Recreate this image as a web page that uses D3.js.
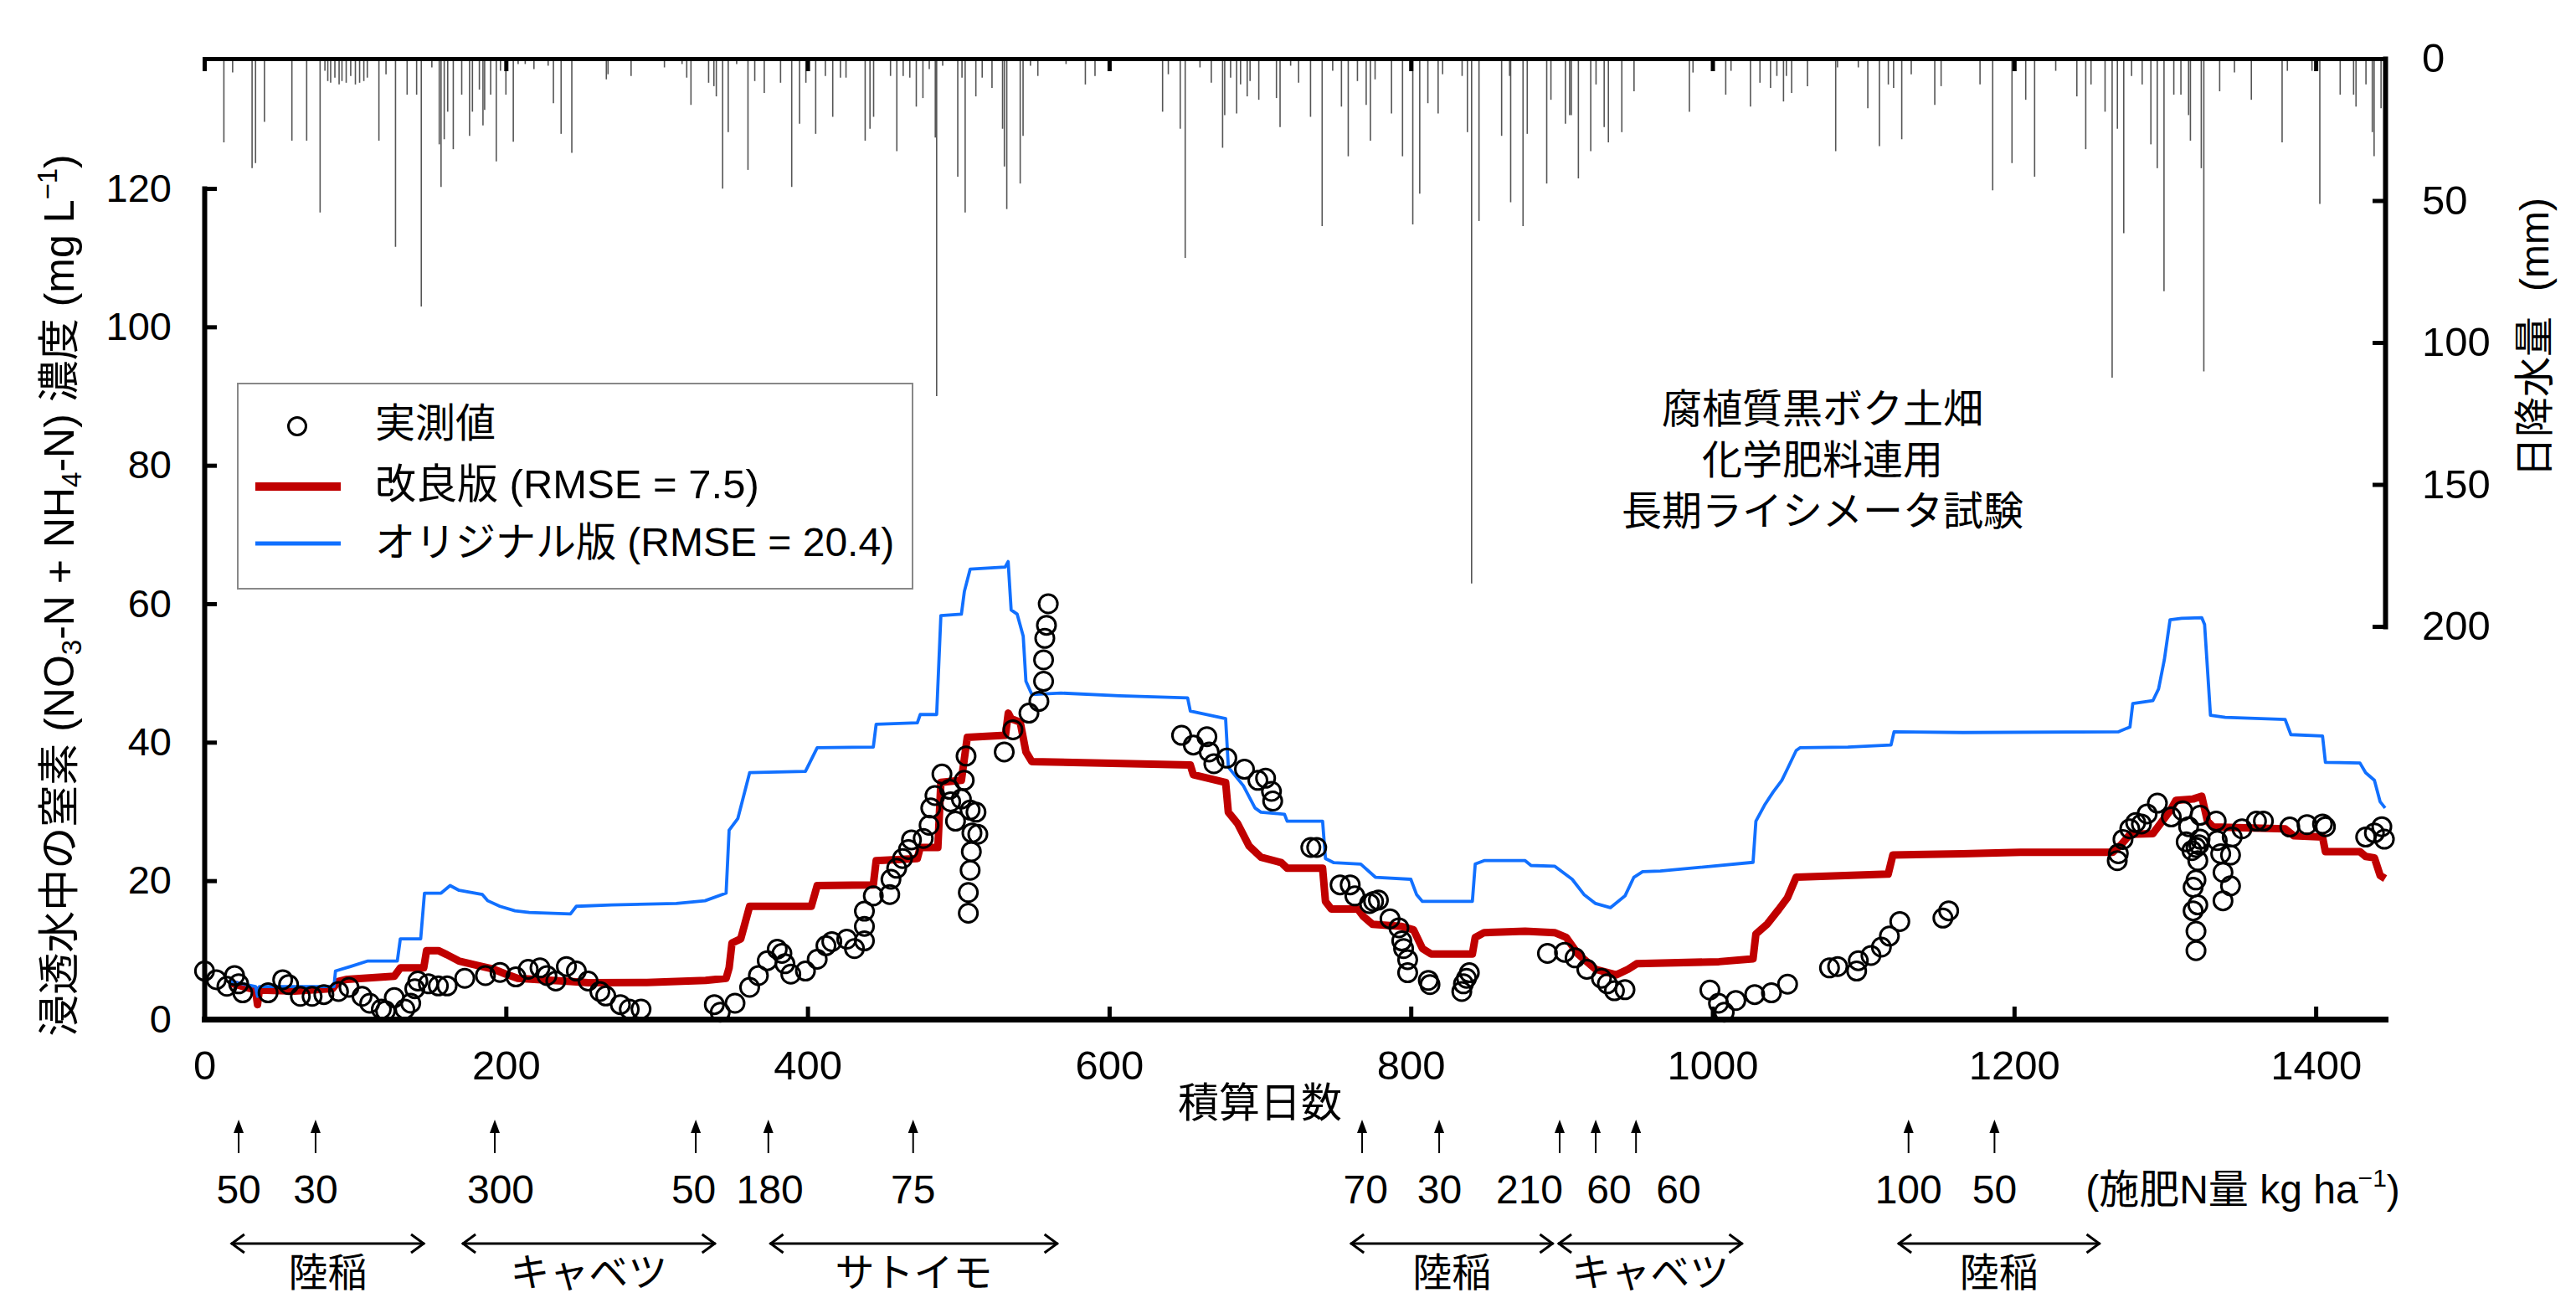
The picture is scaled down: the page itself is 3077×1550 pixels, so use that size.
<!DOCTYPE html>
<html><head><meta charset="utf-8">
<script src="https://cdn.jsdelivr.net/npm/d3@7"></script>
<style>
body{margin:0;background:#fff}
svg text{font-family:"Liberation Sans",Arial,"Noto Sans CJK JP",sans-serif;fill:#000}
</style>
</head><body>
<svg id="chart" width="3077" height="1550"></svg>
<script>
// ---------- data ----------
const xTicks = [0,200,400,600,800,1000,1200,1400];
const yTicks = [0,20,40,60,80,100,120];
const rainTicks = [0,50,100,150,200];

const observed = [
[0.2,6.95],[8.0,5.7],[15.0,4.75],[20.1,6.3],[22.8,5.1],[25.5,3.8],[42.3,3.8],[52.0,5.7],[55.9,5.0],[63.7,3.3],[71.5,3.3],[79.3,3.55],[89.0,4.0],[96.0,4.6],[104.6,3.3],[109.7,2.3],[117.4,1.45],[120.2,1.2],[126.0,3.1],[133.0,1.45],[136.9,2.3],[139.6,4.4],[141.6,5.5],[148.6,5.1],[155.2,4.8],[161.0,4.8],[172.7,5.9],[186.4,6.3],[196.1,6.75],[206.6,6.1],[214.8,7.2],[222.6,7.4],[227.2,6.3],[233.1,5.5],[240.1,7.6],[246.7,6.95],[254.5,5.5],[262.3,4.0],[266.2,3.35],[275.9,2.1],[281.8,1.45],[289.6,1.45],[338.2,2.1],[342.1,1.0],[351.9,2.3],[361.6,4.6],[367.4,6.3],[373.3,8.45],[379.9,10.1],[383.0,9.5],[385.0,8.0],[388.9,6.5],[398.6,6.95],[406.4,8.65],[412.2,10.6],[416.1,11.2],
[426.0,11.55],[431.1,10.2],[437.7,11.3],[437.7,13.4],[437.7,15.6],[443.6,17.8],[454.5,18.0],[455.3,20.2],[459.1,21.8],[463.0,23.2],[466.9,24.5],[468.9,25.9],[476.7,26.1],[480.6,28.0],[481.7,30.5],[484.5,32.3],[489.1,35.4],[494.2,33.2],[494.9,31.4],[498.1,28.6],[502.0,31.8],[503.9,34.5],[505.1,38.0],[506.6,15.3],[506.6,18.3],[507.8,21.5],[508.6,24.2],[509.0,26.9],[507.8,30.2],[511.7,29.9],[512.9,26.7],[530.4,38.6],[536.2,41.8],[546.8,44.2],[553.4,45.9],[556.5,48.8],[556.5,51.9],[557.3,55.0],[558.4,56.9],[559.6,60.0],
[648.0,41.0],[655.8,39.6],[664.8,40.8],[666.3,38.6],[669.4,36.9],[678.0,37.7],[689.7,36.1],[698.6,34.5],[703.7,34.8],[707.6,32.9],[708.4,31.5],[733.7,24.8],[737.6,24.8],[753.1,19.4],[759.8,19.4],[762.9,17.8],[772.6,16.7],[775.3,17.0],[778.5,17.2],[786.2,14.5],[792.1,13.2],[794.0,11.3],[795.2,10.2],[797.9,8.6],[797.9,6.7],[811.6,5.6],[812.7,5.0],[833.8,4.0],[834.9,5.1],[836.9,5.9],[838.8,6.7],[890.6,9.5],[901.9,9.66],[908.9,8.85],[916.7,7.2],[926.4,5.9],[930.3,5.1],[935.0,4.1],[942.0,4.25],
[998.3,4.2],[1004.0,2.3],[1007.8,1.0],[1015.5,2.7],[1028.0,3.55],[1039.1,3.8],[1049.8,5.05],[1077.6,7.4],[1083.0,7.6],[1095.6,6.95],[1096.7,8.45],[1105.1,9.2],[1112.0,10.4],[1117.3,12.0],[1124.2,14.1],[1152.8,14.6],[1156.6,15.65],[1268.4,22.9],[1269.1,23.9],[1272.2,25.96],[1276.7,27.5],[1280.6,28.4],[1284.4,28.2],[1288.2,29.65],[1295.0,31.2],[1304.2,29.2],[1311.8,30.1],[1314.1,25.6],[1315.7,27.8],[1317.9,24.35],[1320.6,24.8],[1321.8,22.9],[1322.5,25.2],[1323.3,26.0],[1323.3,29.45],[1320.6,20.1],[1318.7,19.05],[1318.7,15.65],[1321.8,16.5],[1320.6,12.7],[1320.6,9.9],[1334.0,28.6],[1334.7,25.8],[1337.0,23.9],[1338.5,21.2],[1343.5,23.7],[1343.5,19.25],[1338.5,17.1],[1344.6,26.3],[1351.1,27.5],[1360.7,28.6],[1365.3,28.6],[1382.8,27.75],[1394.2,28.1],[1404.5,28.2],[1406.4,27.8],[1433.1,26.3],[1438.9,26.9],[1443.8,27.8],[1445.5,26.0]
];

const improved = [
[17,5.25],[34,4.2],[35.3,2.1],[36.5,4.2],[59.8,4.06],[85,4.4],[89,5.45],[94.8,5.75],[126,6.2],[130,7.4],[145.5,7.4],[147.4,9.9],[155.2,9.9],[161,9.3],[168.8,8.4],[180.5,7.8],[192,7.2],[200,6.5],[207.8,5.9],[223.4,5.68],[242.8,5.45],[254.5,5.25],[293.5,5.3],[332.4,5.6],[346,5.9],[348,7.4],[349.9,11],[355.7,11.6],[361.6,16.3],[402.5,16.3],[406.4,19.3],
[443.6,19.4],[445.5,22.9],[472.8,23.2],[474.7,24.8],[486.4,24.8],[488.4,34.2],[502,34.5],[505.9,40.7],[531.2,41],[533.1,44.2],[535,43.4],[541,42.9],[544.8,38.6],[548.7,37.2],[653.8,36.7],[655.8,35.3],[677.2,34.2],[679,29.9],[685,28.3],[692.8,25],[700.6,23.4],[714.2,22.6],[718,21.8],[741.5,21.8],[743.4,17],[747.3,15.9],[764.8,15.9],[768.7,14.8],[774.6,13.7],[794,13.4],[801.8,12.9],[807.7,10.2],[813.5,9.4],[840.8,9.4],[842.7,11.8],[848.6,12.5],[875.8,12.7],[895.3,12.5],[903,11.8],[910.9,9.4],[922.5,7.2],[936.2,6.4],[944,7.2],[949.8,8],[1004.3,8.3],
[1026.9,8.7],[1028.8,12.3],[1036.4,13.75],[1044,15.86],[1049.8,17.56],[1055.5,20.5],[1116.5,20.95],[1119.6,23.7],[1166,23.9],[1204.3,24.1],[1265.3,24.1],[1271,25.2],[1276.8,26.7],[1292,26.8],[1303.4,30.1],[1307.3,31.6],[1318.7,31.8],[1324.4,32.2],[1328.2,28.6],[1332,27.75],[1379.7,27.5],[1385.4,26.5],[1404.5,26.3],[1406.4,24.2],[1429.3,24.2],[1433.1,23.5],[1438.9,23.3],[1442.7,20.75],[1446,20.3]
];

const original = [
[17,5.5],[34,4.7],[35.3,3.3],[36.5,4.7],[86,4.7],[87,6.95],[97,7.6],[108.5,8.4],[128,8.4],[130,11.6],[143.5,11.6],[146,18.2],[157,18.2],[163,19.3],[169,18.6],[184.4,18],[188,17.1],[196,16.3],[206,15.65],[215.6,15.4],[242.8,15.2],[246.7,16.3],[270,16.5],[313,16.7],[332,17.1],[346,18.2],[348,27.3],[353.8,29],[361.6,35.6],[398.6,35.8],[406.4,39.2],[443.6,39.3],
[445.5,42.6],[472.8,42.8],[474.7,44],[485.6,44],[488.4,58.3],[502,58.5],[504,61.8],[507.8,65],[531,65.3],[533,66.1],[535,59.1],[539,58.5],[543,55.3],[544.8,48.8],[548.7,46.9],[568,47.1],[607,46.7],[652,46.4],[653.8,44.5],[677.2,43.4],[679,36.4],[689,33.7],[696.7,30.5],[700.6,29.9],[716.2,29.6],[718,28.6],[741.5,28.6],[743.4,23.2],[749,22.6],[766.8,22.4],[776.5,20.5],[800,20.2],[803.8,18],[807.7,17],[840.8,17],[842.7,22.4],[848.6,22.9],[875.8,22.9],[879.7,22.2],[895.3,22.1],[907,20.2],[914.8,18],[922.5,16.7],[932.3,16.1],[942,17.8],[947.9,20.5],[953.7,21.3],[965.4,21.4],
[1026.9,22.65],[1028.8,28.6],[1034.5,30.9],[1040.2,32.8],[1046,34.5],[1049.8,36.2],[1055.5,38.8],[1058,39.2],[1089.8,39.3],[1118.4,39.6],[1120.4,41.5],[1166,41.4],[1269,41.5],[1276.8,42.2],[1278.7,45.6],[1292,46],[1295.8,47.7],[1299.6,51.9],[1303.4,57.7],[1311,57.9],[1324.4,58],[1326.3,57],[1330.2,43.9],[1340,43.6],[1379.7,43.3],[1383.5,41.1],[1404.5,40.9],[1406.4,37.1],[1429.3,37],[1433.1,35.6],[1438.9,34.5],[1442.7,31.4],[1446,30.5]
];

// daily rainfall [day, mm]
const rainfall = [
[13.0,29.5],[18.8,4.9],[31.7,38.6],[34.0,36.8],[39.9,22.3],[58.1,28.9],[67.9,28.9],[76.8,54.2],[80.0,4.3],[81.9,7.9],[83.8,8.5],[86.6,6.7],[89.4,9.1],[91.3,7.9],[94.1,8.5],[97.1,6.1],[100.2,9.1],[103.0,8.5],[105.8,7.9],[108.1,6.7],[115.8,28.9],[120.5,5.5],[126.8,66.3],[134.5,12.7],[140.8,12.7],[143.9,87.3],[150.9,3.1],[155.8,30.2],[157.0,45.2],[159.1,28.4],[161.4,18.7],[165.1,31.9],[170.7,12.7],[175.9,27.2],[177.8,18.7],[182.4,10.9],[184.8,23.5],[185.9,18.1],[189.9,12.7],[193.6,36.2],[196.4,4.3],[200.0,12.7],[204.9,29.3],[208.1,1.9],[212.8,1.9],[218.6,3.7],[228.0,2.5],[231.5,15.7],[236.6,26.5],[243.7,33.2],[266.6,7.3],[267.7,5.5],[283.0,6.1],[305.1,3.1],[316.8,1.9],[319.9,6.7],[322.7,16.3],[334.4,8.5],[337.9,9.7],[339.5,13.3],[343.7,45.8],[347.4,25.9],[353.0,1.9],[360.5,39.2],
[365.0,7.9],[371.3,12.1],[382.1,8.5],[389.5,45.2],[394.7,22.9],[398.9,8.5],[405.4,26.5],[411.8,6.1],[416.7,20.5],[421.8,6.7],[425.5,6.7],[438.2,28.9],[441.4,24.7],[443.8,20.5],[455.0,6.1],[459.2,32.6],[463.4,6.1],[467.8,6.7],[472.1,16.9],[476.5,13.9],[480.7,3.7],[484.7,27.8],[485.6,118.9],[489.6,2.5],[499.6,41.6],[502.4,6.7],[504.5,54.2],[511.6,13.3],[515.8,6.7],[522.3,10.3],[529.3,24.7],[530.5,38.0],[532.1,53.0],[541.0,44.0],[542.9,27.2],[547.8,2.5],[552.7,6.1],[571.4,1.9],[584.2,9.1],[590.6,6.1],[635.4,18.7],[639.2,5.5],[647.1,24.7],[650.4,70.2],[660.2,3.1],[667.7,8.5],[675.2,31.4],[676.6,19.9],[680.5,6.7],[684.5,19.3],[687.1,9.1],[691.5,13.3],[693.4,7.9],[699.2,14.5],[710.9,13.9],[713.3,24.1],[720.3,2.5],[725.6,8.5],
[733.5,20.5],[741.2,59.0],[748.2,4.3],[754.0,16.9],[758.5,34.4],[764.6,7.9],[770.4,16.3],[773.2,28.9],[776.3,7.3],[787.2,19.3],[794.5,34.4],[801.3,58.4],[805.9,47.6],[811.3,15.7],[818.1,19.3],[821.1,5.5],[834.0,6.1],[837.5,25.9],[840.3,184.9],[845.2,57.2],[860.2,27.2],[865.5,6.1],[866.2,50.6],[874.4,59.0],[877.2,26.5],[890.1,44.0],[892.9,14.5],[902.5,22.9],[905.3,19.9],[906.4,19.9],[911.1,42.2],[919.3,32.6],[922.8,9.1],[928.2,24.1],[931.0,29.5],[939.9,25.9],[948.0,11.5],[984.7,18.7],[987.1,4.9],[1008.8,12.7],[1012.3,4.3],[1025.2,16.9],[1031.5,8.5],[1038.5,10.3],[1042.7,6.1],[1047.1,15.1],[1049.0,6.1],[1052.5,12.1],[1063.0,9.7],[1081.7,32.6],[1082.9,3.1],
[1096.7,3.1],[1103.0,17.5],[1110.7,30.8],[1116.6,9.1],[1120.1,10.3],[1125.5,28.4],[1131.8,5.5],[1147.4,16.3],[1151.6,9.7],[1177.4,9.1],[1185.8,46.4],[1198.6,36.8],[1207.7,14.5],[1213.6,41.6],[1227.6,4.3],[1241.6,13.3],[1247.5,31.9],[1251.0,9.1],[1260.3,18.7],[1265.0,112.4],[1268.5,24.7],[1272.7,61.5],[1277.9,6.1],[1284.9,9.1],[1290.7,30.2],[1294.9,38.6],[1299.4,81.9],[1305.9,12.7],[1310.6,12.7],[1315.7,19.9],[1316.9,28.9],[1324.1,38.6],[1325.8,110.2],[1336.3,11.5],[1346.1,4.9],[1357.3,14.5],[1377.7,29.5],[1381.2,4.3],[1397.5,4.3],[1402.7,51.2],[1416.2,12.7],[1425.1,12.7],[1426.7,16.9],[1433.3,9.1],[1437.5,25.9],[1438.7,34.4],[1443.3,17.5]
];

const fertDays    = [22.8,73.8,192.6,325.9,374,470,767.7,818.8,898.7,922.6,949.3,1130,1187];
const fertRates   = ["50","30","300","50","180","75","70","30","210","60","60","100","50"];
const fertLabelAt = [22.8,73.8,196.5,324.5,375,470,770,819,878.7,931.4,977.5,1130,1187];
const cropNames = ["陸稲","キャベツ","サトイモ","陸稲","キャベツ","陸稲"];
const cropStart = [17.7,171,375,760,897.6,1123];
const cropEnd   = [146,339,566,894.5,1020,1257];

// ---------- drawing ----------
const svg = d3.select("#chart");
const x  = d3.scaleLinear().domain([0,1446]).range([244,2849]);
const y  = d3.scaleLinear().domain([0,120]).range([1217,225]);
const yr = d3.scaleLinear().domain([0,200]).range([70,748]);

// rainfall bars
svg.append("g").selectAll("line").data(rainfall).join("line")
  .attr("x1",d=>x(d[0])).attr("x2",d=>x(d[0]))
  .attr("y1",yr(0)).attr("y2",d=>yr(d[1]))
  .attr("stroke","#555").attr("stroke-width",1.6);

// axes
function styleAxis(g,w){
  g.select(".domain").attr("stroke","#000").attr("stroke-width",w).attr("stroke-linecap","square");
  g.selectAll(".tick line").attr("stroke","#000").attr("stroke-width",5);
}
const gBottom = svg.append("g").attr("transform",`translate(0,${y(0)})`)
  .call(d3.axisBottom(x).tickValues(xTicks).tickSizeInner(-15).tickSizeOuter(0).tickPadding(37).tickFormat(d3.format("d")));
styleAxis(gBottom,7);
gBottom.selectAll("text").attr("font-size",49);

const gTop = svg.append("g").attr("transform",`translate(0,${yr(0)})`)
  .call(d3.axisTop(x).tickValues(xTicks).tickSizeInner(-15).tickSizeOuter(0).tickFormat(""));
styleAxis(gTop,5);

const gLeft = svg.append("g").attr("transform",`translate(${x(0)},0)`)
  .call(d3.axisLeft(y).tickValues(yTicks).tickSizeInner(-15).tickSizeOuter(0).tickPadding(39));
styleAxis(gLeft,6);
gLeft.selectAll("text").attr("font-size",47);

const gRight = svg.append("g").attr("transform",`translate(${x(1446)},0)`)
  .call(d3.axisRight(yr).tickValues(rainTicks).tickSizeInner(-15).tickSizeOuter(0).tickPadding(44));
styleAxis(gRight,6);
gRight.selectAll("text").attr("font-size",49);

// lines
const line = d3.line().x(d=>x(d[0])).y(d=>y(d[1]));
svg.append("path").datum(improved).attr("d",line)
  .attr("fill","none").attr("stroke","#C00000").attr("stroke-width",9).attr("stroke-linejoin","round");
svg.append("path").datum(original).attr("d",line)
  .attr("fill","none").attr("stroke","#1170FF").attr("stroke-width",3.8).attr("stroke-linejoin","round");

// observed
svg.append("g").selectAll("circle").data(observed).join("circle")
  .attr("cx",d=>x(d[0])).attr("cy",d=>y(d[1])).attr("r",11)
  .attr("fill","none").attr("stroke","#000").attr("stroke-width",3);

// legend
const lg = svg.append("g");
lg.append("rect").attr("x",284).attr("y",458).attr("width",806).attr("height",245)
  .attr("fill","#fff").attr("stroke","#888").attr("stroke-width",2);
lg.append("circle").attr("cx",355).attr("cy",509).attr("r",10.5).attr("fill","none").attr("stroke","#000").attr("stroke-width",3);
lg.append("line").attr("x1",305).attr("x2",407).attr("y1",581).attr("y2",581).attr("stroke","#C00000").attr("stroke-width",10);
lg.append("line").attr("x1",305).attr("x2",407).attr("y1",649).attr("y2",649).attr("stroke","#1170FF").attr("stroke-width",5);
lg.append("text").attr("x",448).attr("y",522).attr("font-size",48).text("実測値");
lg.append("text").attr("x",448).attr("y",595).attr("font-size",49).text("改良版 (RMSE = 7.5)");
lg.append("text").attr("x",448).attr("y",664).attr("font-size",48).text("オリジナル版 (RMSE = 20.4)");

// annotation
const ann = ["腐植質黒ボク土畑","化学肥料連用","長期ライシメータ試験"];
svg.append("g").selectAll("text").data(ann).join("text")
  .attr("x",2177).attr("y",(d,i)=>505+i*61).attr("text-anchor","middle").attr("font-size",48).text(d=>d);

// axis titles
const tl = svg.append("text").attr("transform","translate(88,711) rotate(-90)")
  .attr("text-anchor","middle").attr("font-size",50);
tl.append("tspan").text("浸透水中の窒素 (NO");
tl.append("tspan").attr("font-size",33).attr("dy",9).text("3");
tl.append("tspan").attr("dy",-9).text("-N + NH");
tl.append("tspan").attr("font-size",33).attr("dy",9).text("4");
tl.append("tspan").attr("dy",-9).text("-N) 濃度 (mg L");
tl.append("tspan").attr("font-size",33).attr("dy",-20).text("−1");
tl.append("tspan").attr("dy",20).text(")");

const tr = svg.append("text").attr("transform","translate(3044,403) rotate(-90)")
  .attr("text-anchor","middle").attr("font-size",48);
tr.append("tspan").text("日降水量");
tr.append("tspan").attr("dx",30).text("(mm)");

svg.append("text").attr("x",x(700)).attr("y",1334).attr("text-anchor","middle").attr("font-size",49).text("積算日数");

// fertilizer arrows
const fg = svg.append("g");
fertDays.forEach((d,i)=>{
  const cx = x(d);
  fg.append("line").attr("x1",cx).attr("x2",cx).attr("y1",1377).attr("y2",1348).attr("stroke","#000").attr("stroke-width",2);
  fg.append("path").attr("d",`M${cx},1337L${cx-6},1353L${cx+6},1353Z`).attr("fill","#000");
  fg.append("text").attr("x",x(fertLabelAt[i])).attr("y",1437).attr("text-anchor","middle").attr("font-size",48).text(fertRates[i]);
});
const unit = svg.append("text").attr("x",2679).attr("y",1437).attr("text-anchor","middle").attr("font-size",48);
unit.append("tspan").text("(施肥N量 kg ha");
unit.append("tspan").attr("font-size",30).attr("dy",-20).text("−1");
unit.append("tspan").attr("dy",20).text(")");

// crop periods
const cg = svg.append("g");
cropNames.forEach((n,i)=>{
  const a = x(cropStart[i]), b = x(cropEnd[i]);
  cg.append("line").attr("x1",a).attr("x2",b).attr("y1",1485).attr("y2",1485).attr("stroke","#000").attr("stroke-width",3);
  cg.append("path").attr("d",`M${a+16},1474L${a+1},1485L${a+16},1496M${b-16},1474L${b-1},1485L${b-16},1496`)
    .attr("fill","none").attr("stroke","#000").attr("stroke-width",3);
  cg.append("text").attr("x",(a+b)/2).attr("y",1536).attr("text-anchor","middle").attr("font-size",47).text(n);
});
</script>
</body></html>
